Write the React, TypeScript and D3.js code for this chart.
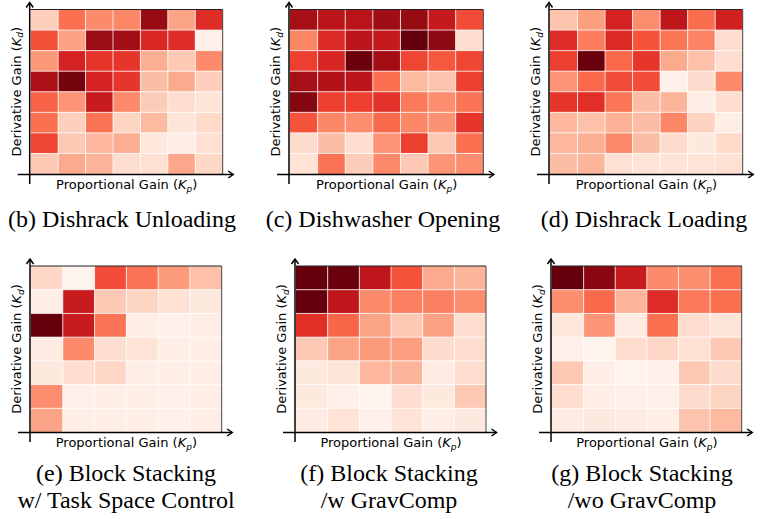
import React from "react";
import * as d3 from "d3";

// Kp / Kd level indices (no tick labels are shown in the figure)
const kpLevelsTop = ["kp1", "kp2", "kp3", "kp4", "kp5", "kp6", "kp7"];
const kdLevelsTop = ["kd8", "kd7", "kd6", "kd5", "kd4", "kd3", "kd2", "kd1"]; // top -> bottom
const kpLevelsBottom = ["kp1", "kp2", "kp3", "kp4", "kp5", "kp6"];
const kdLevelsBottom = ["kd7", "kd6", "kd5", "kd4", "kd3", "kd2", "kd1"]; // top -> bottom

// normalised values (0 = lightest, 1 = darkest), rows from top to bottom
const dishrackUnloading = [
  [0.18, 0.48, 0.4, 0.41, 0.9, 0.32, 0.68],
  [0.57, 0.33, 0.89, 0.87, 0.7, 0.68, 0.03],
  [0.36, 0.72, 0.65, 0.65, 0.29, 0.2, 0.4],
  [0.85, 0.97, 0.72, 0.65, 0.24, 0.3, 0.18],
  [0.52, 0.37, 0.76, 0.4, 0.19, 0.12, 0.09],
  [0.48, 0.18, 0.47, 0.16, 0.25, 0.09, 0.14],
  [0.6, 0.2, 0.26, 0.29, 0.08, 0.04, 0.11],
  [0.2, 0.3, 0.27, 0.12, 0.11, 0.31, 0.15],
];
const dishwasherOpening = [
  [0.86, 0.8, 0.81, 0.88, 0.9, 0.77, 0.58],
  [0.41, 0.69, 0.8, 0.77, 1.0, 0.92, 0.12],
  [0.62, 0.71, 0.99, 0.87, 0.6, 0.55, 0.6],
  [0.86, 0.83, 0.8, 0.48, 0.25, 0.22, 0.62],
  [0.94, 0.62, 0.62, 0.66, 0.45, 0.39, 0.47],
  [0.56, 0.41, 0.39, 0.5, 0.41, 0.375, 0.65],
  [0.13, 0.24, 0.12, 0.37, 0.62, 0.2, 0.48],
  [0.1, 0.47, 0.19, 0.4, 0.2, 0.37, 0.39],
];
const dishrackLoading = [
  [0.22, 0.34, 0.72, 0.39, 0.79, 0.49, 0.73],
  [0.68, 0.44, 0.69, 0.56, 0.46, 0.42, 0.12],
  [0.62, 0.99, 0.5, 0.65, 0.3, 0.23, 0.12],
  [0.37, 0.5, 0.58, 0.58, 0.03, 0.13, 0.4],
  [0.65, 0.67, 0.46, 0.24, 0.27, 0.04, 0.12],
  [0.26, 0.23, 0.28, 0.24, 0.41, 0.17, 0.04],
  [0.26, 0.29, 0.4, 0.24, 0.13, 0.07, 0.14],
  [0.24, 0.27, 0.11, 0.1, 0.1, 0.1, 0.11],
];
const blockStackingTaskSpace = [
  [0.15, 0.01, 0.58, 0.47, 0.35, 0.23],
  [0.04, 0.76, 0.2, 0.16, 0.11, 0.07],
  [1.0, 0.76, 0.47, 0.04, 0.03, 0.04],
  [0.06, 0.4, 0.12, 0.1, 0.04, 0.04],
  [0.07, 0.125, 0.15, 0.04, 0.04, 0.04],
  [0.39, 0.03, 0.04, 0.04, 0.03, 0.04],
  [0.32, 0.04, 0.04, 0.04, 0.03, 0.04],
];
const blockStackingGravComp = [
  [1.0, 0.99, 0.79, 0.56, 0.3, 0.27],
  [1.0, 0.79, 0.4, 0.43, 0.43, 0.39],
  [0.67, 0.51, 0.32, 0.2, 0.33, 0.12],
  [0.2, 0.32, 0.35, 0.34, 0.13, 0.12],
  [0.07, 0.09, 0.26, 0.27, 0.06, 0.12],
  [0.07, 0.03, 0.01, 0.12, 0.07, 0.2],
  [0.06, 0.1, 0.03, 0.1, 0.04, 0.07],
];
const blockStackingNoGravComp = [
  [1.0, 0.93, 0.76, 0.4, 0.39, 0.48],
  [0.39, 0.5, 0.27, 0.68, 0.45, 0.48],
  [0.08, 0.37, 0.06, 0.48, 0.125, 0.09],
  [0.03, 0.01, 0.125, 0.15, 0.11, 0.2],
  [0.2, 0.04, 0.01, 0.03, 0.2, 0.13],
  [0.125, 0.04, 0.03, 0.03, 0.13, 0.16],
  [0.06, 0.07, 0.06, 0.04, 0.22, 0.25],
];

const captionsLine1 = [
  "(b) Dishrack Unloading",
  "(c) Dishwasher Opening",
  "(d) Dishrack Loading",
  "(e) Block Stacking",
  "(f) Block Stacking",
  "(g) Block Stacking",
];
const captionsLine2 = ["", "", "", "w/ Task Space Control", "/w GravComp", "/wo GravComp"];

const datasets = [
  dishrackUnloading,
  dishwasherOpening,
  dishrackLoading,
  blockStackingTaskSpace,
  blockStackingGravComp,
  blockStackingNoGravComp,
];

// layout (pixel boxes of each heatmap and caption placement)
const layout = [
  { x0: 30.7, x1: 222.7, y0: 9.5, y1: 174, cx: 122, cy: 227, top: true },
  { x0: 290, x1: 483.3, y0: 9.5, y1: 174, cx: 383, cy: 227, top: true },
  { x0: 550, x1: 742.7, y0: 9.5, y1: 174, cx: 644, cy: 227, top: true },
  { x0: 31, x1: 221.7, y0: 266, y1: 432, cx: 126, cy: 481, top: false },
  { x0: 296, x1: 486, y0: 266, y1: 432, cx: 389, cy: 481, top: false },
  { x0: 552, x1: 741.7, y0: 266, y1: 432, cx: 642, cy: 481, top: false },
];

const color = d3.scaleSequential(d3.interpolateReds).domain([0, 1]);
const LABEL_FONT = "'DejaVu Sans', sans-serif";
const CAPTION_FONT = "'Liberation Serif', 'Times New Roman', Times, serif";

function Heatmap({ data, box, idx }) {
  const cols = box.top ? kpLevelsTop : kpLevelsBottom;
  const rows = box.top ? kdLevelsTop : kdLevelsBottom;
  const x = d3.scaleBand().domain(cols).range([box.x0, box.x1]);
  const y = d3.scaleBand().domain(rows).range([box.y0, box.y1]);
  const ax = box.x0 - 1;
  const ay = box.y1 + 0.5;
  const yTip = box.y0 - 7;
  const xTip = box.x1 + 10.5;
  const midY = (box.y0 + box.y1) / 2;
  const midX = (box.x0 + box.x1) / 2;
  return (
    <g>
      {data.map((row, ri) =>
        row.map((v, ci) => (
          <rect
            key={`${ri}-${ci}`}
            x={x(cols[ci])}
            y={y(rows[ri])}
            width={x.bandwidth()}
            height={y.bandwidth()}
            fill={color(v)}
          />
        ))
      )}
      {cols.slice(1).map((c) => (
        <line key={"v" + c} x1={x(c)} x2={x(c)} y1={box.y0} y2={box.y1} stroke="#fff" strokeOpacity={0.75} strokeWidth={1} />
      ))}
      {rows.slice(1).map((r) => (
        <line key={"h" + r} x1={box.x0} x2={box.x1} y1={y(r)} y2={y(r)} stroke="#fff" strokeOpacity={0.75} strokeWidth={1} />
      ))}
      {/* top and right spines */}
      <line x1={box.x0} x2={box.x1} y1={box.y0} y2={box.y0} stroke="#222" strokeWidth={1} />
      <line x1={box.x1} x2={box.x1} y1={box.y0} y2={box.y1} stroke="#444" strokeWidth={1} />
      {/* arrow axes */}
      <line x1={ax} x2={ax} y1={box.y1 + 10} y2={yTip} stroke="#000" strokeWidth={1.5} />
      <path d={`M${ax - 3.5},${yTip + 5} L${ax},${yTip} L${ax + 3.5},${yTip + 5}`} fill="none" stroke="#000" strokeWidth={1.5} />
      <line x1={box.x0 - 13} x2={xTip} y1={ay} y2={ay} stroke="#000" strokeWidth={1.5} />
      <path d={`M${xTip - 5},${ay - 3.5} L${xTip},${ay} L${xTip - 5},${ay + 3.5}`} fill="none" stroke="#000" strokeWidth={1.5} />
      {/* axis titles */}
      <text x={midX} y={box.y1 + 15} textAnchor="middle" fontFamily={LABEL_FONT} fontSize={13} fill="#000">
        Proportional Gain (<tspan fontStyle="italic">K</tspan>
        <tspan fontStyle="italic" fontSize={9} dy={2.6}>p</tspan>
        <tspan dy={-2.6}>)</tspan>
      </text>
      <text
        transform={`translate(${ax - 9},${midY}) rotate(-90)`}
        textAnchor="middle"
        fontFamily={LABEL_FONT}
        fontSize={13}
        fill="#000"
      >
        Derivative Gain (<tspan fontStyle="italic">K</tspan>
        <tspan fontStyle="italic" fontSize={9} dy={2.6}>d</tspan>
        <tspan dy={-2.6}>)</tspan>
      </text>
      {/* caption */}
      <text x={box.cx} y={box.cy} textAnchor="middle" fontFamily={CAPTION_FONT} fontSize={24} fill="#000">
        {captionsLine1[idx]}
      </text>
      {captionsLine2[idx] && (
        <text x={box.cx} y={box.cy + 27} textAnchor="middle" fontFamily={CAPTION_FONT} fontSize={24} fill="#000">
          {captionsLine2[idx]}
        </text>
      )}
    </g>
  );
}

export default function App() {
  return (
    <svg
      width={770}
      height={519}
      viewBox="0 0 770 519"
      style={{ position: "absolute", left: 0, top: 0, background: "#fff" }}
    >
      <rect width={770} height={519} fill="#fff" />
      {datasets.map((d, i) => (
        <Heatmap key={i} data={d} box={layout[i]} idx={i} />
      ))}
    </svg>
  );
}
